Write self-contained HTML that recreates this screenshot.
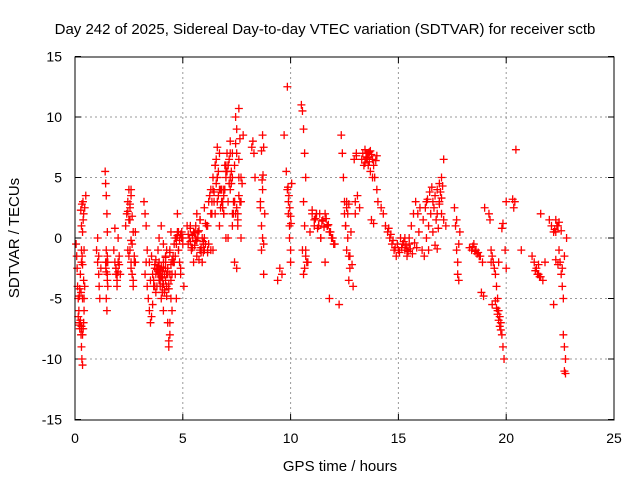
<!DOCTYPE html>
<html><head><meta charset="utf-8">
<style>
body{margin:0;background:#fff;}
svg{display:block;font-family:"Liberation Sans",sans-serif;}
</style></head>
<body>
<svg id="chart" width="640" height="480">
<text x="325" y="34" font-size="15" text-anchor="middle">Day 242 of 2025, Sidereal Day-to-day VTEC variation (SDTVAR) for receiver sctb</text>
<text x="340" y="471" font-size="15" text-anchor="middle">GPS time / hours</text>
<text transform="translate(19,238) rotate(-90)" font-size="15" text-anchor="middle">SDTVAR / TECUs</text>
<g id="grid"></g>
<g id="ticks"></g>
<g id="marks"></g>
<rect x="75" y="57" width="539" height="363" fill="none" stroke="#000" stroke-width="1"/>
</svg>
<script>
const xTicks=[0,5,10,15,20,25];
const yTicks=[-15,-10,-5,0,5,10,15];
const gpsTime=[0.05,0.08,0.1,0.12,0.15,0.18,0.2,0.22,0.25,0.28,0.3,0.32,0.35,0.38,0.4,0.42,0.45,0.3,0.35,0.4,0.45,0.5,0.3,0.25,0.28,0.33,0.38,0.42,
1.0,1.05,1.1,1.12,1.15,1.2,1.1,1.05,
1.4,1.42,1.45,1.48,1.5,1.45,1.42,1.5,1.52,1.45,1.48,1.5,1.43,
1.8,1.85,1.9,1.95,2.0,2.05,2.1,1.9,1.95,2.0,
2.35,2.4,2.45,2.5,2.55,2.6,2.65,2.7,2.75,2.8,2.5,2.55,2.6,2.65,2.7,2.45,2.75,2.8,2.6,
3.2,3.25,3.3,3.35,3.3,3.25,3.35,3.4,3.45,3.5,3.55,3.6,3.65,3.7,3.5,3.55,3.45,
3.75,3.8,3.85,3.9,3.95,4.0,4.05,4.1,4.15,4.2,4.25,4.3,4.35,4.4,4.45,4.5,4.55,3.9,4.0,4.1,4.2,4.3,4.4,4.5,4.35,4.4,4.45,4.2,4.1,3.95,4.05,4.25,
4.6,4.65,4.7,4.75,4.8,4.85,4.9,4.95,5.0,5.05,4.7,4.8,4.9,4.65,4.75,
5.2,5.3,5.4,5.5,5.6,5.7,5.8,5.9,6.0,6.1,6.2,6.3,5.5,5.6,5.7,5.8,5.9,6.0,5.35,5.65,5.95,6.15,
6.2,6.3,6.4,6.5,6.6,6.7,6.8,6.9,7.0,7.1,7.2,7.3,7.4,7.5,7.6,7.7,6.4,6.5,6.6,6.7,6.8,6.9,7.0,7.1,7.2,7.3,7.4,7.5,7.6,6.6,6.8,7.0,7.2,7.4,7.6,7.45,7.5,7.55,7.3,7.1,6.9,7.7,7.8,
8.2,8.25,8.3,8.35,8.6,8.65,8.7,8.75,8.8,8.7,8.65,8.6,8.75,
9.4,9.5,9.6,9.7,9.8,9.85,9.9,9.95,10.0,10.05,9.9,9.95,10.0,9.85,
10.5,10.55,10.6,10.65,10.7,10.6,10.65,10.7,10.75,10.6,10.65,10.7,10.55,
10.8,10.9,11.0,11.1,11.2,11.3,11.4,11.1,11.2,11.3,11.4,11.5,11.6,11.7,11.8,11.9,12.0,11.6,11.7,11.8,
12.25,12.35,12.4,12.45,12.5,12.55,12.6,12.65,12.7,12.75,12.8,12.5,12.6,12.7,12.9,13.0,13.0,13.1,13.2,13.05,
13.3,13.4,13.5,13.6,13.7,13.8,13.9,14.0,13.5,13.6,13.7,13.8,14.0,14.05,
14.2,14.3,14.4,14.5,14.6,14.7,14.8,14.9,15.0,15.1,15.2,15.3,15.4,15.5,15.6,15.7,15.8,15.9,16.0,15.4,15.5,15.3,
16.1,16.2,16.3,16.4,16.5,16.6,16.7,16.8,16.9,17.0,17.1,17.2,16.8,16.9,17.0,17.1,16.6,16.4,16.3,
17.6,17.65,17.7,17.75,17.8,17.85,17.7,17.75,17.8,
18.3,18.4,18.5,18.6,18.7,18.8,18.9,19.0,
19.2,19.25,19.3,19.35,19.4,19.45,19.5,19.55,19.6,19.65,19.7,19.75,19.8,19.85,19.9,19.95,19.3,19.35,19.6,19.65,20.0,20.0,
20.3,20.35,20.4,20.45,20.7,
21.2,21.3,21.4,21.5,21.6,21.7,21.8,21.5,21.6,
22.0,22.1,22.2,22.3,22.4,22.45,22.5,22.55,22.6,22.65,22.7,22.6,22.65,22.7,22.75,22.7,22.75,22.8,22.3,22.2,
0.15,0.2,0.25,0.3,0.35,0.2,0.25,0.3,0.35,0.4,0.22,0.27,0.32,0.37,0.42,0.3,0.35,
1.45,1.5,1.47,1.52,1.9,1.95,2.0,2.05,1.85,2.55,2.6,2.65,2.5,2.7,2.45,2.55,2.6,
3.6,3.65,3.7,3.75,3.8,3.85,3.9,3.95,4.0,4.05,4.1,4.15,4.2,4.25,4.3,4.35,4.4,4.45,4.5,3.7,3.8,3.9,4.0,4.1,4.2,4.3,4.4,3.75,3.85,3.95,4.05,4.15,4.25,4.35,4.45,4.55,4.6,4.65,4.7,4.75,4.8,4.85,4.9,4.95,5.0,
5.25,5.35,5.45,5.55,5.65,5.75,5.85,5.95,6.05,6.15,5.25,5.35,5.45,5.55,5.65,5.75,5.85,5.95,6.05,6.15,5.4,5.6,5.8,6.0,
6.25,6.35,6.45,6.55,6.65,6.75,6.85,6.95,7.05,7.15,7.25,7.35,7.45,7.55,7.65,6.3,6.4,6.5,6.6,6.7,6.8,6.9,7.0,7.1,7.2,7.3,7.4,7.5,7.6,7.7,6.35,6.55,6.75,6.95,7.15,7.35,7.55,7.75,6.45,6.65,6.85,7.05,7.25,7.45,7.65,
8.65,8.7,8.75,8.68,8.72,9.88,9.92,9.96,10.0,10.02,
11.0,11.15,11.25,11.35,11.45,11.55,11.65,11.75,11.85,11.95,12.05,
12.55,12.65,12.75,12.85,12.6,12.7,12.95,13.05,13.35,13.45,13.55,13.65,13.75,13.85,13.95,13.45,13.55,13.65,13.75,13.85,
14.55,14.65,14.75,14.85,14.95,15.05,15.15,15.25,15.35,15.45,15.55,15.65,15.75,15.85,15.95,
16.15,16.25,16.35,16.45,16.55,16.65,16.75,16.85,16.95,17.05,16.9,17.0,16.7,16.8,
18.45,18.55,18.65,18.75,18.85,18.95,19.5,19.55,19.6,19.65,19.7,19.75,19.8,19.85,
22.25,22.35,22.45,22.55,22.3,22.4,21.35,21.45,21.55,21.65,21.75];
const sdtvar=[-0.5,-1.5,-2.5,-4,-5,-6,-7,-7.5,-7,-8,-9,-10,-10.5,-7.5,-7,-5,-4,-1,0.5,2,2.5,3.5,-2,-3,-4.5,-1.5,1.5,-6,
-1,-2,-3,-4,-5,-2.5,-1.5,0,
5.5,4.5,3.5,2,0.5,-1,-2,-3,-4,-5,-6,-1.5,-2.5,
-1,-2,-3,-4,-2,-1.5,-3,-2.5,-3.5,
0,1,2,3,4,-1,-2,-3,-4,-2,0.5,1.5,2.5,3.5,-0.5,-3.5,-1,-1.5,-2,
4,3,2,1,-1,-2,-3,-4,-5,-6,-7,-6.5,-5.5,-4,-2.5,-3.5,-1.5,
-2,-3,-4,-1,-2,-3,-5,-4,-6,-3,-2,-4,-7,-9,-8,-5,-3,-1.5,0,1,-0.5,-2.5,-3,-1,-6,-8.5,-7,0.5,-1.5,-2.5,-3.5,-4.5,
-1,-2,-3,0,0.5,-1,-2,-3,0,-0.5,-4,-5,-1,-2.5,-1.5,
2,1,0,-1,0.5,1,0,-1,-2,0,1,-0.5,-1,-2,0,0.5,1.5,0,-1,1,2,-0.5,
1,3,2,4,6,5,7,3,4,6,3,5,7,6,7,5,0,-1,2,3,1,4,2,0,6,4,1,-2,-2.5,6.5,7.5,4,5.5,8,3,10.7,10,9,1,2,0,2,3,
8.5,7.5,8,7,5,3,1,0,-0.5,2,4,-1,2.5,
-3,-3.5,-2.5,-3,8.5,5.5,4,2,0,-1,4.5,3,1,-2,
12.5,11,10.5,9,7,5,3,1,-1,-2,-3,-2.5,-1.5,
-1,-2,0.5,2,1.5,2,1,0,1,2,1,0,1.5,2,1,0.5,0,-0.5,-2,1,
-5,-5.5,8.5,7,5,3,1,-1,0,-1.5,-2.5,0.5,2,2.5,-3.5,-4,2,3,3.5,2.5,
7,6.5,6,6.5,7,7.2,6.5,5,6.8,7,6,5.5,5,4,
3,2.5,2,1,0.5,0,-0.5,-1,-1.5,-1,0,-0.5,-1,-1.5,0,1,2,3,2,2.5,-1,-0.5,
0,-1,-1.5,0,1,2,3,3.5,4,4.5,5,6.5,1,2,3,2,1.5,0.5,-1,
3,2.5,1,-1,-3,-3.5,0.5,1.5,-2,
-0.5,-0.8,-1,-0.5,-1,-1.2,-1.5,-2,
2.5,2,1.5,-1,-1.5,-2,-2.5,-3,-4,-5,-6,-6.5,-7,-8,-9,-10,-1,-2,-5.5,-6,-2,-2.5,
3,3.2,2.5,3,7.3,
-1,-1.5,-2,-2.5,-3,-3.2,-3.5,-2,-2.2,
2,1.5,1,0.5,0.5,1,-1,-2,-3,-4,-5,-1.5,-2.5,-8,-9,-10,-11,-11.2,0,1.5,
-5.5,-6.5,-7.2,-7,-7.5,-5,-4.8,-6.8,-7.3,-8,-3.5,-4.2,2.3,2.8,3,-1,1,
-2.2,-2.8,-3.5,-2,-2,-2.5,-3,-2.8,-2.2,0.8,1.5,-0.2,1.8,-1.5,0.5,2.2,2.8,
-2.5,-3,-3.5,-4,-4.5,-2.5,-3,-3.5,-4,-3.2,-2.8,-3.8,-4.3,-3.5,-3,-2.5,-3.8,-3,-2.2,-1.8,-2.2,-2.6,-3,-2.4,-2,-1.6,-2.8,-1.2,-1.8,-2.3,-2.7,-3.3,-4.5,-4.8,-4.2,-3.5,-2,-0.5,0,-0.5,0.2,0.5,-0.2,0.3,
0.5,0,-0.5,0.8,0.2,-0.6,-0.2,0.6,-0.8,-1.2,-0.5,-1,0.3,-0.3,-0.8,0.4,-1.5,-1.8,-1.2,-0.3,1.2,-1.2,-0.8,-0.2,
1.5,2.5,3.5,2,3,4.5,3.5,2.5,3,4,5.5,6.5,4.5,3,2,2,3,4,5,6,5,4,3,3.5,5,6,7,5,3,2.5,3.5,5,3,6.5,4,6,4.5,2,1.5,4.5,3.8,5.5,2.5,7,5.5,
7.8,8.2,7.2,8.5,7.5,4.8,5.2,4.2,3.5,2.5,
1.8,1.2,2.3,1.6,0.8,2,1.4,0.9,1.6,1.1,0.5,
0,-0.5,1,2,-1.5,-2.2,3,2.8,6.5,6.8,7,6.2,6.7,7.1,6.9,6,6.4,7.3,6.6,6.3,
1.5,1.2,0.8,0.3,-0.2,-0.8,-0.5,-1.2,-0.8,-0.3,-0.6,-1.1,-0.9,-1.3,-0.4,
-0.8,0.5,1.5,2.5,3.2,3.8,4.2,2.5,1.5,0.8,3.8,4.3,2.8,3.3,
-0.6,-0.9,-0.7,-1.1,-1.3,-1.5,-4.5,-4.8,-5.2,-5.8,-6.3,-6.8,-7.3,-7.6,
0.8,1.2,0.7,1,1.3,0.6,-1.8,-2.2,-2.7,-3,-3.2];
const X=t=>75+t*(539/25), Y=v=>238-v*(363/30);
const NS='http://www.w3.org/2000/svg';
const grid=document.getElementById('grid'), ticks=document.getElementById('ticks'), marks=document.getElementById('marks');
function mk(tag,attrs,parent){const e=document.createElementNS(NS,tag);for(const k in attrs)e.setAttribute(k,attrs[k]);parent.appendChild(e);return e;}
xTicks.forEach(t=>{
 const x=X(t);
 if(t>0&&t<25){const g=mk('line',{x1:x,x2:x,y1:57,y2:420,stroke:'#999','stroke-dasharray':'2,3'},grid);
 
 }
 mk('line',{x1:x,x2:x,y1:420,y2:414,stroke:'#000'},ticks);
 mk('line',{x1:x,x2:x,y1:57,y2:63,stroke:'#000'},ticks);
 const l=mk('text',{x:x,y:443,'font-size':14,'text-anchor':'middle'},ticks);l.textContent=t;
 
 
});
yTicks.forEach(v=>{
 const y=Y(v);
 if(v>-15&&v<15){const g=mk('line',{x1:75,x2:614,y1:y,y2:y,stroke:'#999','stroke-dasharray':'2,3'},grid);
 
 }
 mk('line',{x1:75,x2:81,y1:y,y2:y,stroke:'#000'},ticks);
 mk('line',{x1:608,x2:614,y1:y,y2:y,stroke:'#000'},ticks);
 const l=mk('text',{x:62,y:y+5,'font-size':14,'text-anchor':'end'},ticks);l.textContent=v;
 
 
});
const n=Math.min(gpsTime.length,sdtvar.length);
for(let i=0;i<n;i++){
 const x=X(gpsTime[i]),y=Y(sdtvar[i]);
 const p=mk('path',{d:`M${x-4},${y}h8M${x},${y-4}v8`,stroke:'#f00','stroke-width':1.3,fill:'none'},marks);
 
 
}
</script>
</body></html>
